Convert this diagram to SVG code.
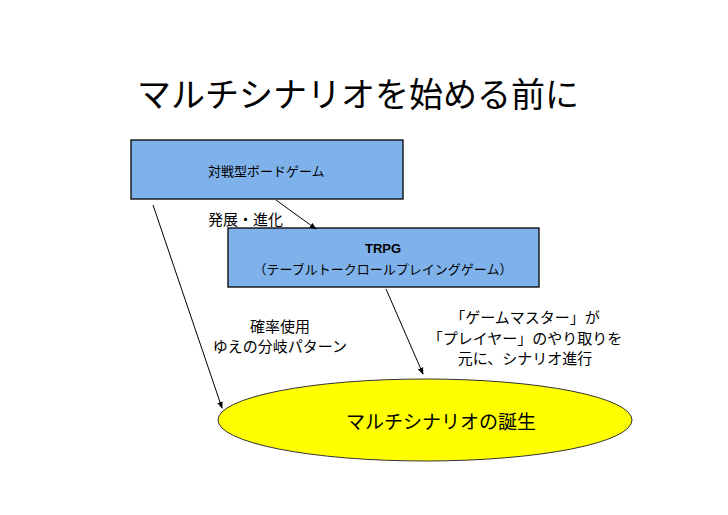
<svg xmlns="http://www.w3.org/2000/svg" width="728" height="515" viewBox="0 0 728 515">
<style>
text{font-family:"Liberation Sans","Noto Sans CJK JP",sans-serif;fill:#000}
.box{fill:#7fb2ea;stroke:#000;stroke-width:1.3}
.c{stroke:#000;stroke-width:1;fill:none;marker-end:url(#a)}
.t{font-size:15px}
</style>
<defs><marker id="a" viewBox="0 0 10 10" refX="9" refY="5" markerWidth="7" markerHeight="7" orient="auto"><path d="M0,1L10,5L0,9z" fill="#000"/></marker></defs>
<rect width="728" height="515" fill="#fff"/>
<text x="137" y="107" font-size="34">マルチシナリオを始める前に</text>
<g id="board"><rect class="box" x="131" y="140" width="272" height="59"/><text x="208" y="176" font-size="13">対戦型ボードゲーム</text></g>
<g id="trpg"><rect class="box" x="228" y="228" width="311" height="59"/><text x="383" y="253" font-size="13" font-weight="bold" text-anchor="middle">TRPG</text><text x="383" y="274" font-size="13" text-anchor="middle">（テーブルトークロールプレイングゲーム）</text></g>
<g id="multi"><ellipse cx="425" cy="420" rx="207" ry="41" fill="#ffff00" stroke="#333" stroke-width="1"/><text x="441" y="429" font-size="19" text-anchor="middle">マルチシナリオの誕生</text></g>
<g id="connectors">
<line class="c" x1="276" y1="200" x2="316" y2="229"/>
<line class="c" x1="153" y1="205" x2="222" y2="408"/>
<line class="c" x1="386" y1="289" x2="423" y2="374"/>
</g>
<g id="labels">
<text x="208" y="225" class="t">発展・進化</text>
<text x="280" y="332" class="t" text-anchor="middle">確率使用</text>
<text x="280" y="352" class="t" text-anchor="middle">ゆえの分岐パターン</text>
<text x="525" y="323" class="t" text-anchor="middle">「ゲームマスター」が</text>
<text x="525" y="344" class="t" text-anchor="middle">「プレイヤー」のやり取りを</text>
<text x="525" y="364" class="t" text-anchor="middle">元に、シナリオ進行</text>
</g>
</svg>
